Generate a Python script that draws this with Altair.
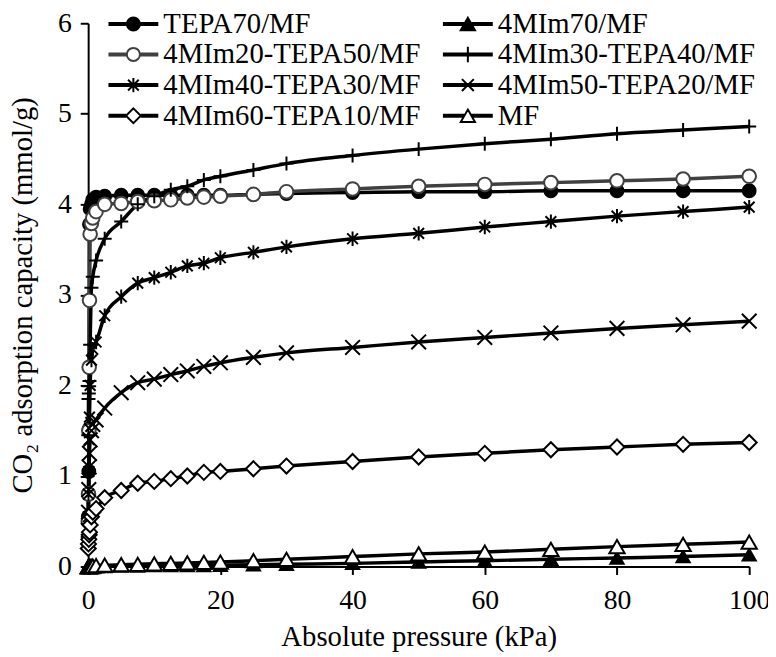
import altair as alt
import pandas as pd

# ---- data ----
pressure = [0.02, 0.05, 0.1, 0.15, 0.2, 0.3, 0.5, 0.7, 1.2, 2.5, 5, 7.5, 10, 12.5,
            15, 17.5, 20, 25, 30, 40, 50, 60, 70, 80, 90, 100]

series_names = ["TEPA70/MF", "4MIm70/MF", "4MIm20-TEPA50/MF", "4MIm30-TEPA40/MF",
                "4MIm40-TEPA30/MF", "4MIm50-TEPA20/MF", "4MIm60-TEPA10/MF", "MF"]

tepa70 = [0.55, 0.8, 1.05, 1.52, 3.78, 3.95, 4.0, 4.05, 4.08, 4.09, 4.1, 4.1, 4.1, 4.1,
          4.1, 4.1, 4.1, 4.11, 4.12, 4.13, 4.14, 4.14, 4.15, 4.15, 4.15, 4.15]
mim70 = [0.0, 0.0, 0.0, 0.0, 0.0, 0.0, 0.0, 0.0, 0.0, 0.0, 0.005, 0.005, 0.01, 0.01,
         0.01, 0.01, 0.015, 0.02, 0.025, 0.035, 0.05, 0.065, 0.08, 0.095, 0.11, 0.13]
mim20 = [0.5, 0.8, 1.5, 2.2, 2.94, 3.67, 3.79, 3.85, 3.92, 4.0, 4.01, 4.03, 4.04, 4.05,
         4.07, 4.08, 4.09, 4.11, 4.14, 4.17, 4.2, 4.22, 4.24, 4.26, 4.28, 4.31]
mim30 = [1.45, 1.85, 1.91, 1.99, 2.05, 2.45, 3.08, 3.2, 3.38, 3.62, 3.81, 4.0, 4.09, 4.16,
         4.2, 4.27, 4.31, 4.38, 4.45, 4.54, 4.61, 4.67, 4.72, 4.78, 4.82, 4.86]
mim40 = [0.55, 0.8, 1.05, 1.4, 1.65, 2.0, 2.28, 2.4, 2.48, 2.77, 2.98, 3.13, 3.19, 3.25,
         3.32, 3.35, 3.41, 3.47, 3.53, 3.62, 3.68, 3.75, 3.81, 3.87, 3.92, 3.97]
mim50 = [0.4, 0.6, 0.85, 1.1, 1.25, 1.4, 1.5, 1.57, 1.62, 1.75, 1.92, 2.03, 2.07, 2.12,
         2.16, 2.21, 2.25, 2.31, 2.36, 2.42, 2.48, 2.53, 2.58, 2.63, 2.67, 2.71]
mim60 = [0.2, 0.25, 0.3, 0.35, 0.38, 0.46, 0.55, 0.6, 0.64, 0.76, 0.84, 0.92, 0.94, 0.97,
         1.0, 1.04, 1.05, 1.08, 1.11, 1.16, 1.21, 1.25, 1.29, 1.32, 1.35, 1.37]
mf = [0.0, 0.0, 0.0, 0.0, 0.0, 0.0, 0.0, 0.005, 0.01, 0.015, 0.02, 0.025, 0.03, 0.035,
      0.04, 0.045, 0.05, 0.065, 0.08, 0.11, 0.14, 0.16, 0.19, 0.22, 0.245, 0.27]

series_values = [tepa70, mim70, mim20, mim30, mim40, mim50, mim60, mf]

rows = []
for name, vals in zip(series_names, series_values):
    for p, v in zip(pressure, vals):
        rows.append({"series": name, "p": p, "q": v})
df = pd.DataFrame(rows)

# ---- styles ----
FONT = "Liberation Serif, Times New Roman, Tinos, serif"
line_colors = ["black", "black", "#404040", "black", "black", "black", "black", "black"]

PLUS = "M-1,0L1,0M0,-1L0,1"
ASTER = "M-0.75,-0.75L0.75,0.75M-0.75,0.75L0.75,-0.75M0,-1L0,1"
XMARK = "M-1,-1L1,1M-1,1L1,-1"
marker_shapes = ["circle", "triangle-up", "circle", PLUS, ASTER, XMARK, "diamond", "triangle-up"]
marker_fills = ["black", "black", "white", "transparent", "transparent", "transparent", "white", "white"]
marker_sizes = [169, 240, 169, 300, 200, 150, 256, 256]

# legend symbols: line + marker centred on the line (unit = sqrt(size)/2 px)
def dbl(a, b):
    return f"M{a},-0.17L{b},-0.17M{a},0.17L{b},0.17"

L0, L1 = -1, 7.4  # marker centre at 3.2
leg_circle = dbl(L0, 2.1) + dbl(4.3, L1) + "M2.1,0A1.1,1.1 0 1,1 4.3,0A1.1,1.1 0 1,1 2.1,0Z"
leg_tri = dbl(L0, 2.6) + dbl(3.8, L1) + "M3.2,-1.04L4.4,1.04L2.0,1.04Z"
leg_diam = dbl(L0, 1.95) + dbl(4.45, L1) + "M3.2,-1.25L4.45,0L3.2,1.25L1.95,0Z"
leg_plus = dbl(L0, L1) + "M3.2,-1.3L3.2,1.3"
leg_aster = dbl(L0, L1) + "M2.3,-0.9L4.1,0.9M2.3,0.9L4.1,-0.9M3.2,-1.2L3.2,1.2"
leg_x = dbl(L0, L1) + "M2.2,-1L4.2,1M2.2,1L4.2,-1"
legend_shapes = [leg_circle, leg_tri, leg_circle, leg_plus, leg_aster, leg_x, leg_diam, leg_tri]

x_enc = alt.X("p:Q", scale=alt.Scale(domain=[0, 100], nice=False),
              axis=alt.Axis(values=[0, 20, 40, 60, 80, 100], title="Absolute pressure (kPa)",
                            labelFlush=False, labelPadding=12, titlePadding=9))
y_enc = alt.Y("q:Q", scale=alt.Scale(domain=[0, 6], nice=False),
              axis=alt.Axis(values=[0, 1, 2, 3, 4, 5, 6], title="CO₂ adsorption capacity (mmol/g)",
                            labelPadding=9, titlePadding=20))

lines = alt.Chart(df).mark_line(interpolate="monotone", strokeWidth=3.5).encode(
    x=x_enc, y=y_enc,
    stroke=alt.Stroke("series:N", scale=alt.Scale(domain=series_names, range=line_colors), legend=None),
)

points = alt.Chart(df).mark_point(filled=True, strokeWidth=2, opacity=1).encode(
    x=x_enc, y=y_enc,
    shape=alt.Shape("series:N", scale=alt.Scale(domain=series_names, range=marker_shapes), legend=None),
    fill=alt.Fill("series:N", scale=alt.Scale(domain=series_names, range=marker_fills), legend=None),
    stroke=alt.Stroke("series:N", scale=alt.Scale(domain=series_names, range=line_colors), legend=None),
    size=alt.Size("series:N", scale=alt.Scale(domain=series_names, range=marker_sizes), legend=None),
)

leg = alt.Legend(title=None, orient="none", legendX=12, legendY=-14, columns=2,
                 direction="horizontal",
                 symbolSize=144, symbolStrokeWidth=2, labelFont=FONT, labelFontSize=29,
                 labelColor="black", labelOffset=35, labelLimit=500, rowPadding=1,
                 columnPadding=14, padding=0, symbolOpacity=1)

legend_layer = alt.Chart(df).transform_filter("false").mark_point(filled=True, strokeWidth=2).encode(
    x=x_enc, y=y_enc,
    shape=alt.Shape("series:N", scale=alt.Scale(domain=series_names, range=legend_shapes), legend=leg),
    fill=alt.Fill("series:N", scale=alt.Scale(domain=series_names, range=marker_fills), legend=leg),
    stroke=alt.Stroke("series:N", scale=alt.Scale(domain=series_names, range=line_colors), legend=leg),
)

chart = alt.layer(lines, points, legend_layer).resolve_scale(
    shape="independent", fill="independent", stroke="independent", size="independent"
).properties(
    width=668, height=549,
    padding={"left": 81, "top": 12, "right": 19, "bottom": 88},
    autosize=alt.AutoSizeParams(type="none"),
    background="white",
).configure_view(stroke=None).configure_axis(
    grid=False, domainColor="black", domainWidth=2, tickColor="black", tickWidth=2,
    tickSize=8, labelFont=FONT, labelFontSize=28, labelColor="black",
    titleFont=FONT, titleFontSize=29, titleFontWeight="normal", titleColor="black",
)

chart.save("out.html", embed_options={"renderer": "svg", "actions": False})
